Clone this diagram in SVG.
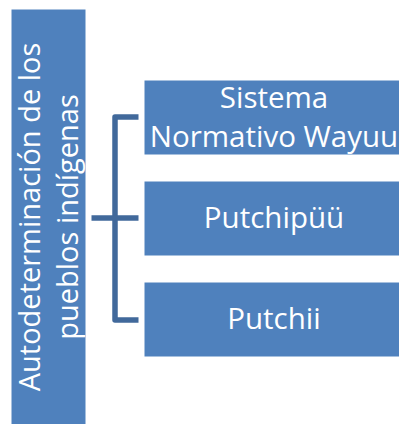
<svg xmlns="http://www.w3.org/2000/svg" width="399" height="424" viewBox="0 0 399 424">
<style>
.box{fill:#4f81bd;stroke:#ffffff;stroke-width:1}
.t{fill:#ffffff;font-family:"Open Sans","Noto Sans","Liberation Sans",sans-serif;font-size:29.5px;text-anchor:middle}
.c{fill:none;stroke:#41699b;stroke-width:5.5;stroke-linejoin:round}
</style>
<rect width="399" height="424" fill="#ffffff"/>
<g id="root">
<rect class="box" x="11" y="9" width="75" height="416"/>
<text class="t" style="font-size:29px" transform="translate(40,217) rotate(-90)"><tspan x="0" y="0">Autodeterminación de los</tspan><tspan x="0" y="38">pueblos indígenas</tspan></text>
</g>
<g id="connectors">
<path class="c" d="M138.5,117 H115 V320 H138.5"/>
<path class="c" d="M91.5,218 H138.5"/>
</g>
<g id="n1">
<rect class="box" x="144" y="80" width="260" height="75"/>
<text class="t" x="274" y="108">Sistema</text>
<text class="t" x="274" y="147">Normativo Wayuu</text>
</g>
<g id="n2">
<rect class="box" x="144" y="181" width="260" height="75"/>
<text class="t" x="274" y="228">Putchipüü</text>
</g>
<g id="n3">
<rect class="box" x="144" y="282" width="260" height="75"/>
<text class="t" x="274" y="329">Putchii</text>
</g>
</svg>
